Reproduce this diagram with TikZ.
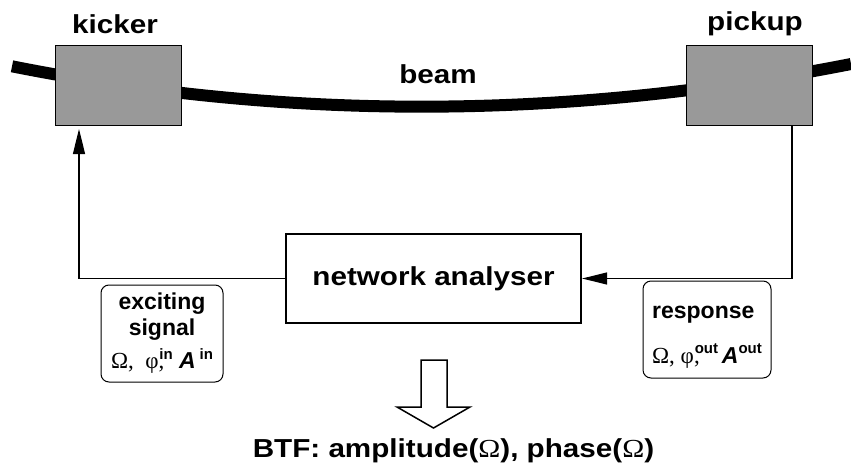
\documentclass[tikz,border=0pt]{standalone}
\usepackage{fontspec}
\usepackage{tikz}
\usetikzlibrary{arrows.meta,positioning}
\setmainfont{Liberation Sans}
\newfontfamily\greekserif{Liberation Serif}
\newfontfamily\widesans[FakeStretch=1.14]{Liberation Sans}
\newfontfamily\wideserif[FakeStretch=1.14]{Liberation Serif}
\definecolor{unit}{HTML}{999999}
\newcommand{\upidx}[1]{\raisebox{9.5pt}{\fontsize{15}{15}\selectfont #1}}
\tikzset{
  beamline/.style={draw=black, line width=12pt},
  unitbox/.style={draw=black, fill=unit, line width=0.8pt, minimum width=126pt, minimum height=80pt, inner sep=0pt},
  nabox/.style={draw=black, line width=2.2pt, minimum width=295pt, minimum height=89pt, inner sep=0pt},
  infobox/.style={draw=black, rounded corners=8pt, line width=1pt, minimum height=97pt, inner sep=0pt},
  sig/.style={draw=black, line width=1.2pt, -{Triangle[length=25pt,width=12pt]}},
  hollow/.style={draw=black, line width=1.5pt, fill=white, line join=miter},
  lab/.style={font=\widesans\bfseries\fontsize{26}{30}\selectfont, inner sep=0pt},
  labs/.style={font=\bfseries\fontsize{23}{26}\selectfont},
}

\begin{document}
\begin{tikzpicture}[x=1pt,y=-1pt]
  \useasboundingbox (0,0) rectangle (851,471);

  \draw[beamline] (12,66.3) .. controls (286.3,120.9) and (566,120.1) .. (851,64);

  \node[unitbox] (kick) at (118,85) {};
  \node[unitbox] (pick) at (749,85) {};
  \node[lab, anchor=base] (kicklab) at (115,33) {kicker};
  \node[lab, anchor=base] (picklab) at (755,30) {pickup};
  \node[lab, anchor=base] (beamlab) at (438,83) {beam};

  \node[nabox, lab] (na) at (433.5,278.5) {network analyser};

  \coordinate (kin) at (79,125);
  \coordinate (pout) at (792,125);
  \draw[sig, shorten >=4pt] (na.west) -| (kin);
  \draw[sig] (pout) |- (na.east);

  \node[infobox, labs, align=center, minimum width=122pt] (exc) at (162,333.5)
    {exciting\\signal\\[7pt]{\greekserif\mdseries Ω,\ \ φ,}\hspace{-5pt}\upidx{in}\ \textit{A}\,\upidx{in}};
  \node[infobox, labs, align=left, minimum width=128pt] (resp) at (707,329.5)
    {\rule{0pt}{27pt}response\\[19pt]{\greekserif\mdseries Ω, φ,}\hspace{-5pt}\upidx{out}\,\textit{A}\upidx{out}};

  \draw[hollow] (421,360) -- (447,360) -- (447,407) -- (470,407) -- (433.5,428)
    -- (397,407) -- (421,407) -- cycle;

  \node[lab, anchor=base] (btf) at (453.5,457)
    {BTF: amplitude({\wideserif\mdseries Ω}), phase({\wideserif\mdseries Ω})};
\end{tikzpicture}
\end{document}
